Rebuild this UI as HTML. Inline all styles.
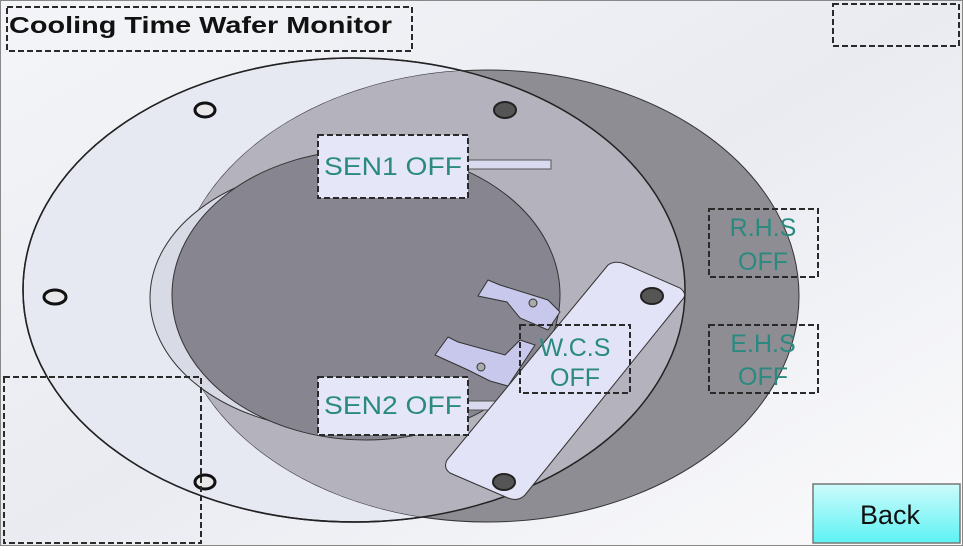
<!DOCTYPE html>
<html><head><style>
body{margin:0;width:963px;height:546px;overflow:hidden;font-family:"Liberation Sans",sans-serif}
</style></head><body>
<svg width="963" height="546" viewBox="0 0 963 546" xmlns="http://www.w3.org/2000/svg">
<defs>
<linearGradient id="bg" x1="0" y1="0" x2="1" y2="1"><stop offset="0" stop-color="#f4f5f8"/><stop offset="0.5" stop-color="#e9ebf1"/><stop offset="1" stop-color="#fbfbfc"/></linearGradient>
<linearGradient id="btn" x1="0" y1="0" x2="0" y2="1"><stop offset="0" stop-color="#cdfbfb"/><stop offset="1" stop-color="#5ef2f4"/></linearGradient>
<clipPath id="wc"><ellipse cx="354" cy="290" rx="331" ry="232"/></clipPath>
</defs>
<rect x="0" y="0" width="963" height="546" fill="url(#bg)"/>
<rect x="0.5" y="0.5" width="962" height="545" fill="none" stroke="#888" stroke-width="1"/>
<ellipse cx="354" cy="290" rx="331" ry="232" fill="#e6e8f2" stroke="#222" stroke-width="1.5"/>
<ellipse cx="487" cy="296" rx="312" ry="226" fill="#8f8d94" stroke="#333" stroke-width="1"/>
<ellipse cx="487" cy="296" rx="312" ry="226" fill="#b4b3bd" clip-path="url(#wc)"/>
<ellipse cx="354" cy="290" rx="331" ry="232" fill="none" stroke="#222" stroke-width="1.5"/>
<ellipse cx="340" cy="298" rx="190" ry="132" fill="#d8dae6" stroke="#333" stroke-width="1"/>
<ellipse cx="366" cy="295" rx="194" ry="145" fill="#87858f" stroke="#333" stroke-width="1"/>
<g stroke="#111" stroke-width="3" fill="#e8e8ea">
<ellipse cx="205" cy="110" rx="10" ry="7"/>
<ellipse cx="55" cy="297" rx="11" ry="7"/>
<ellipse cx="205" cy="482" rx="10" ry="7"/>
</g>
<ellipse cx="505" cy="110" rx="11" ry="8" fill="#555" stroke="#222" stroke-width="2"/>
<polygon points="488,280 500,285 548,300 560,312 548,330 520,318 507,302 478,296" fill="#c8c8ec" stroke="#333" stroke-width="1"/>
<polygon points="448,337 458,342 505,355 520,340 535,345 508,386 490,381 468,370 435,355" fill="#c8c8ec" stroke="#333" stroke-width="1"/>
<circle cx="533" cy="303" r="4" fill="#aaa" stroke="#333"/>
<circle cx="481" cy="367" r="4" fill="#aaa" stroke="#333"/>
<rect x="465" y="160" width="86" height="9" fill="#d9daf0" stroke="#555"/>
<rect x="465" y="401" width="86" height="9" fill="#d9daf0" stroke="#555"/>
<path d="M608,265 Q615,260 625,264 L680,288 Q688,294 682,300 L525,495 Q518,502 508,498 L450,473 Q443,468 447,460 Z" fill="#e2e3f6" stroke="#333" stroke-width="1"/>
<ellipse cx="652" cy="296" rx="11" ry="8" fill="#555" stroke="#222" stroke-width="2"/>
<ellipse cx="504" cy="482" rx="11" ry="8" fill="#555" stroke="#222" stroke-width="2"/>
<g stroke="#2a2a2a" stroke-width="2" stroke-dasharray="6,3">
<rect x="7" y="7" width="405" height="44" fill="none"/>
<rect x="833" y="4" width="126" height="42" fill="none"/>
<rect x="318" y="135" width="150" height="63" fill="#e5e7f8"/>
<rect x="318" y="377" width="150" height="58" fill="#e5e7f8"/>
<rect x="520" y="325" width="110" height="68" fill="none"/>
<rect x="709" y="209" width="109" height="68" fill="none"/>
<rect x="709" y="325" width="109" height="68" fill="none"/>
<rect x="4" y="377" width="197" height="166" fill="none"/>
</g>
<text x="9" y="33" font-size="23" font-weight="bold" fill="#111" textLength="383" lengthAdjust="spacingAndGlyphs">Cooling Time Wafer Monitor</text>
<g fill="#2a8a80" font-size="25" text-anchor="middle">
<text x="393" y="175" textLength="138" lengthAdjust="spacingAndGlyphs">SEN1 OFF</text>
<text x="393" y="414" textLength="138" lengthAdjust="spacingAndGlyphs">SEN2 OFF</text>
<text x="575" y="356">W.C.S</text>
<text x="575" y="386">OFF</text>
<text x="763" y="236">R.H.S</text>
<text x="763" y="270">OFF</text>
<text x="763" y="352">E.H.S</text>
<text x="763" y="385">OFF</text>
</g>
<rect x="813" y="484" width="147" height="59" fill="url(#btn)" stroke="#777" stroke-width="1.5"/>
<text x="890" y="524" font-size="27" fill="#111" text-anchor="middle">Back</text>
</svg>
</body></html>
